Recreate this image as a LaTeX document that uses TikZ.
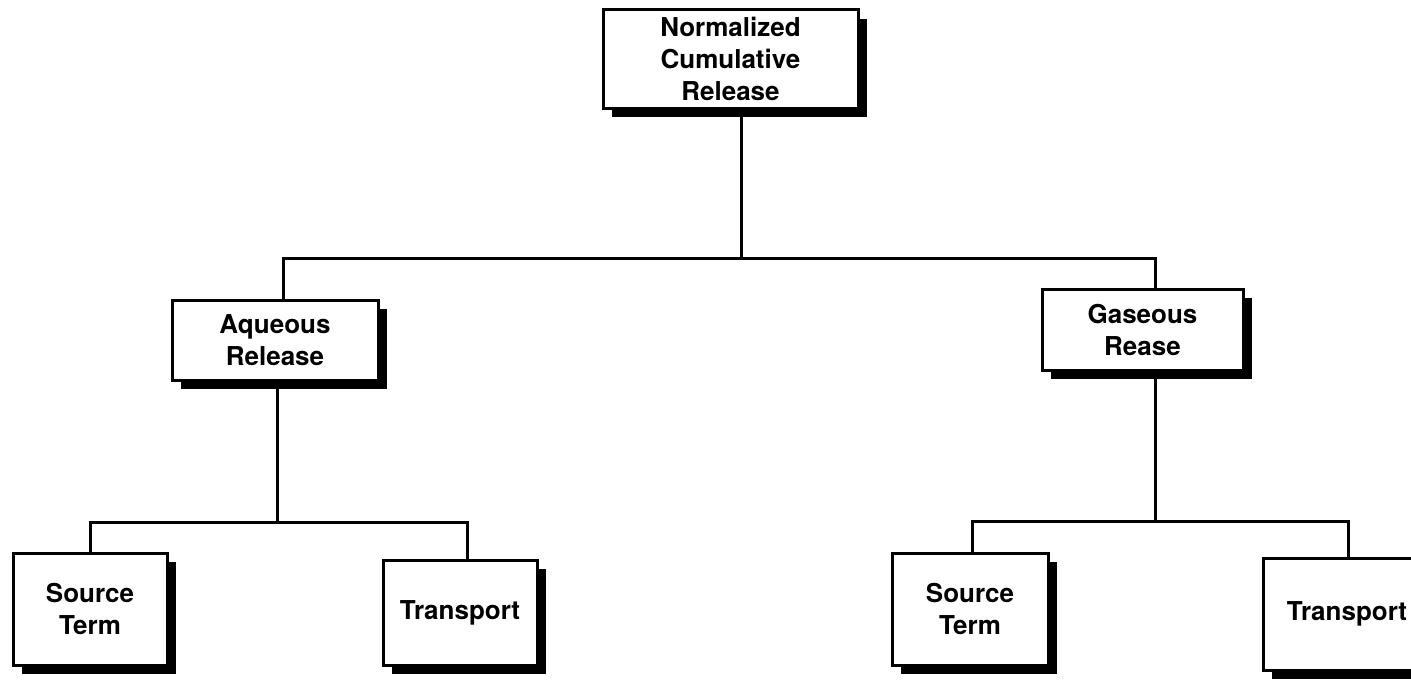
\documentclass[tikz,border=0pt]{standalone}
\usepackage{fontspec}
\setmainfont{TeX Gyre Heros}
\usetikzlibrary{shadows}
\tikzset{
  box/.style={draw=black, fill=white, line width=3pt, inner sep=0pt, align=center,
    font=\fontsize{26}{32}\selectfont\bfseries,
    drop shadow={shadow xshift=9pt, shadow yshift=-9pt, fill=black, opacity=1}},
  conn/.style={draw=black, line width=3pt, line cap=rect}
}
\begin{document}
\begin{tikzpicture}[x=1pt,y=-1pt]
\useasboundingbox[fill=white] (0,0) rectangle (1411,685);
% junction coordinates
\coordinate (j) at (741,258);
\coordinate (h1) at (283,258);
\coordinate (h2) at (1155,258);
\coordinate (a1) at (277,522);
\coordinate (a2) at (90,522);
\coordinate (a3) at (467,522);
\coordinate (g1) at (1155,521);
\coordinate (g2) at (972,521);
\coordinate (g3) at (1348,521);
% boxes
\node[box, minimum width=255pt, minimum height=98pt] (top) at (730.5,59) {Normalized\\Cumulative\\Release};
\node[box, minimum width=206pt, minimum height=80pt] (aq) at (275,340) {Aqueous\\Release};
\node[box, minimum width=201pt, minimum height=81pt] (gas) at (1142.5,329.5) {Gaseous\\Rease};
\node[box, minimum width=154pt, minimum height=112pt] (st1) at (90,609) {Source\\Term};
\node[box, minimum width=154pt, minimum height=105pt] (tr1) at (460,612.5) {Transport};
\node[box, minimum width=156pt, minimum height=112pt] (st2) at (970,609) {Source\\Term};
\node[box, minimum width=168pt, minimum height=112pt] (tr2) at (1347,614) {Transport};
% connectors
\draw[conn] (top.south -| j) -- (j);
\draw[conn] (aq.north -| h1) -- (h1) -- (h2) -- (gas.north -| h2);
\draw[conn] (aq.south -| a1) -- (a1);
\draw[conn] (st1.north -| a2) -- (a2) -- (a3) -- (tr1.north -| a3);
\draw[conn] (gas.south -| g1) -- (g1);
\draw[conn] (st2.north -| g2) -- (g2) -- (g3) -- (tr2.north -| g3);
\end{tikzpicture}
\end{document}
